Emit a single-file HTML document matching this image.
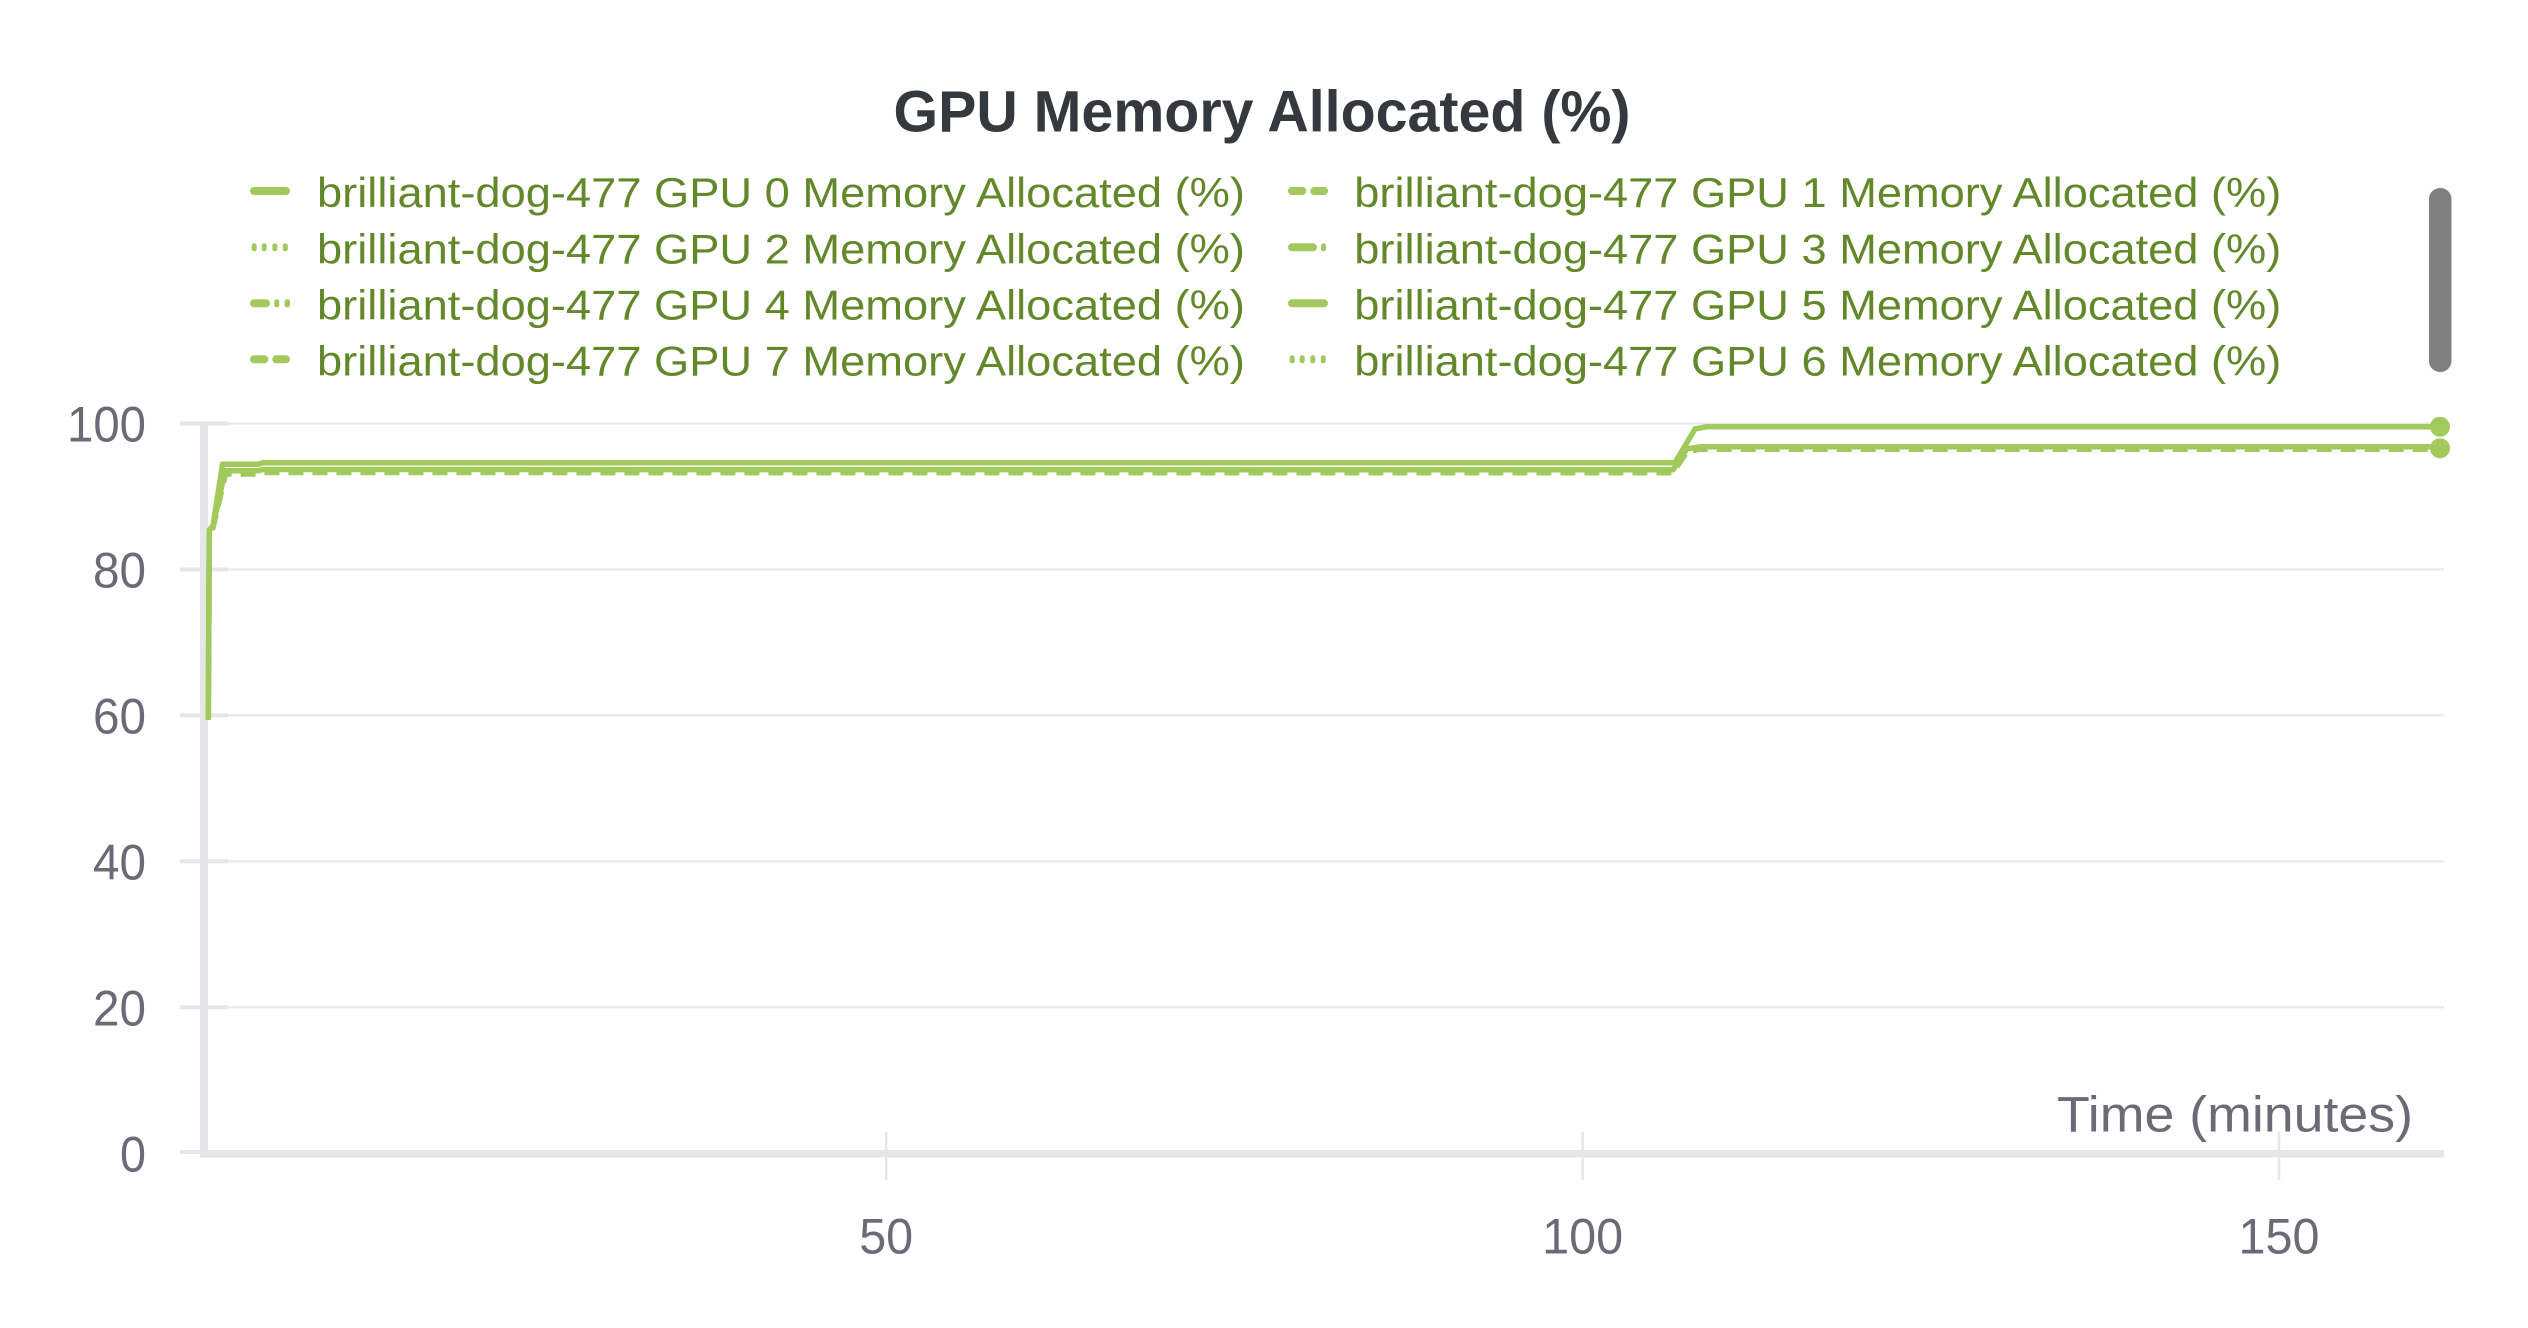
<!DOCTYPE html>
<html>
<head>
<meta charset="utf-8">
<style>
  html, body { margin: 0; padding: 0; background: #ffffff; }
  svg { display: block; }
  text { font-family: "Liberation Sans", "DejaVu Sans", sans-serif; }
</style>
</head>
<body>
<svg width="2528" height="1328" viewBox="0 0 2528 1328" xmlns="http://www.w3.org/2000/svg">
  <rect x="0" y="0" width="2528" height="1328" fill="#ffffff"/>

  <!-- Title -->
  <text x="1262" y="131.7" font-size="58" font-weight="bold" fill="#35383d" text-anchor="middle" textLength="737" lengthAdjust="spacingAndGlyphs">GPU Memory Allocated (%)</text>

  <!-- Legend markers: left column -->
  <g fill="#a3c95e">
    <rect x="250" y="187" width="40" height="8" rx="4"/>
    <rect x="251.7" y="243.3" width="5" height="8" rx="2.5"/>
    <rect x="261.7" y="243.3" width="5" height="8" rx="2.5"/>
    <rect x="272.3" y="243.3" width="5" height="8" rx="2.5"/>
    <rect x="282.8" y="243.3" width="5" height="8" rx="2.5"/>
    <rect x="250" y="299.3" width="20" height="8" rx="4"/>
    <rect x="274.3" y="299.3" width="5" height="8" rx="2.5"/>
    <rect x="284.5" y="299.3" width="5.5" height="8" rx="2.5"/>
    <rect x="250" y="355.3" width="18.3" height="8" rx="4"/>
    <rect x="272.3" y="355.3" width="17.7" height="8" rx="4"/>
  </g>
  <!-- Legend markers: right column -->
  <g fill="#a3c95e">
    <rect x="1288" y="187" width="18.3" height="8" rx="4"/>
    <rect x="1310.3" y="187" width="17.7" height="8" rx="4"/>
    <rect x="1288" y="243.3" width="29" height="8" rx="4"/>
    <rect x="1321" y="243.3" width="5" height="8" rx="2.5"/>
    <rect x="1288" y="299.3" width="40" height="8" rx="4"/>
    <rect x="1289.7" y="355.3" width="5" height="8" rx="2.5"/>
    <rect x="1299.7" y="355.3" width="5" height="8" rx="2.5"/>
    <rect x="1310.3" y="355.3" width="5" height="8" rx="2.5"/>
    <rect x="1320.8" y="355.3" width="5" height="8" rx="2.5"/>
  </g>

  <!-- Legend text -->
  <g font-size="42" fill="#62882a">
    <text x="317" y="207.2" textLength="928" lengthAdjust="spacingAndGlyphs">brilliant-dog-477 GPU 0 Memory Allocated (%)</text>
    <text x="317" y="263.3" textLength="928" lengthAdjust="spacingAndGlyphs">brilliant-dog-477 GPU 2 Memory Allocated (%)</text>
    <text x="317" y="319.4" textLength="928" lengthAdjust="spacingAndGlyphs">brilliant-dog-477 GPU 4 Memory Allocated (%)</text>
    <text x="317" y="375.5" textLength="928" lengthAdjust="spacingAndGlyphs">brilliant-dog-477 GPU 7 Memory Allocated (%)</text>
    <text x="1354.3" y="207.2" textLength="927" lengthAdjust="spacingAndGlyphs">brilliant-dog-477 GPU 1 Memory Allocated (%)</text>
    <text x="1354.3" y="263.3" textLength="927" lengthAdjust="spacingAndGlyphs">brilliant-dog-477 GPU 3 Memory Allocated (%)</text>
    <text x="1354.3" y="319.4" textLength="927" lengthAdjust="spacingAndGlyphs">brilliant-dog-477 GPU 5 Memory Allocated (%)</text>
    <text x="1354.3" y="375.5" textLength="927" lengthAdjust="spacingAndGlyphs">brilliant-dog-477 GPU 6 Memory Allocated (%)</text>
  </g>

  <!-- Scrollbar -->
  <rect x="2429" y="188" width="22.5" height="184" rx="11" fill="#808080"/>

  <!-- Gridlines -->
  <g stroke="#e9e9ec" stroke-width="2.2">
    <line x1="228" y1="423.5" x2="2444" y2="423.5"/>
    <line x1="228" y1="569.5" x2="2444" y2="569.5"/>
    <line x1="228" y1="715.4" x2="2444" y2="715.4"/>
    <line x1="228" y1="861.3" x2="2444" y2="861.3"/>
    <line x1="228" y1="1007.3" x2="2444" y2="1007.3"/>
  </g>

  <!-- Y tick marks -->
  <g stroke="#e6e6e9" stroke-width="4">
    <line x1="180" y1="423.5" x2="228" y2="423.5"/>
    <line x1="180" y1="569.5" x2="228" y2="569.5"/>
    <line x1="180" y1="715.4" x2="228" y2="715.4"/>
    <line x1="180" y1="861.3" x2="228" y2="861.3"/>
    <line x1="180" y1="1007.3" x2="228" y2="1007.3"/>
    <line x1="180" y1="1152" x2="228" y2="1152"/>
  </g>

  <!-- X tick marks -->
  <g stroke="#e6e6e9" stroke-width="2.5">
    <line x1="886.2" y1="1131.7" x2="886.2" y2="1180"/>
    <line x1="1582.6" y1="1131.7" x2="1582.6" y2="1180"/>
    <line x1="2279" y1="1131.7" x2="2279" y2="1180"/>
  </g>

  <!-- Axes -->
  <rect x="200" y="423" width="8" height="734" fill="#e6e6e9"/>
  <rect x="200" y="1150" width="2244" height="7.5" fill="#e6e6e9"/>

  <!-- Y tick labels -->
  <g font-size="50" fill="#6b6b77" text-anchor="end">
    <text x="146" y="441.5" textLength="79" lengthAdjust="spacingAndGlyphs">100</text>
    <text x="146" y="587.5" textLength="53" lengthAdjust="spacingAndGlyphs">80</text>
    <text x="146" y="733.4" textLength="53" lengthAdjust="spacingAndGlyphs">60</text>
    <text x="146" y="879.3" textLength="53" lengthAdjust="spacingAndGlyphs">40</text>
    <text x="146" y="1025.3" textLength="53" lengthAdjust="spacingAndGlyphs">20</text>
    <text x="146" y="1171.3" textLength="26" lengthAdjust="spacingAndGlyphs">0</text>
  </g>

  <!-- X tick labels -->
  <g font-size="50" fill="#6b6b77" text-anchor="middle">
    <text x="886.2" y="1253.3" textLength="54" lengthAdjust="spacingAndGlyphs">50</text>
    <text x="1582.6" y="1253.3" textLength="81" lengthAdjust="spacingAndGlyphs">100</text>
    <text x="2279" y="1253.3" textLength="81" lengthAdjust="spacingAndGlyphs">150</text>
  </g>
  <text x="2413" y="1131.7" font-size="50" fill="#6b6b77" text-anchor="end" textLength="356" lengthAdjust="spacingAndGlyphs">Time (minutes)</text>

  <!-- Data series -->
  <g fill="none" stroke="#a2c95c" stroke-width="5.5" stroke-linejoin="round">
    <path d="M208.3 720 L209.3 532 L213 528 L225.5 474 L258 474 L263 472.5 L1673 472.8 L1687 451.5 L1700 449.3 L2440 449.3" stroke-dasharray="15 9"/>
    <path d="M208.3 720 L209.3 530 L213 526 L225 470.8 L258 470.8 L263 469.5 L1673 469.8 L1687 448.8 L1700 446.8 L2440 446.8"/>
    <path d="M208.3 720 L209.3 530 L213 526 L222.5 464.3 L258 464.3 L263 462.7 L1675 462.7 L1695 429 L1707 426.7 L2440 426.7"/>
  </g>
  <circle cx="2440" cy="426.7" r="10" fill="#a2c95c"/>
  <circle cx="2440" cy="448.3" r="10" fill="#a2c95c"/>
</svg>
</body>
</html>
